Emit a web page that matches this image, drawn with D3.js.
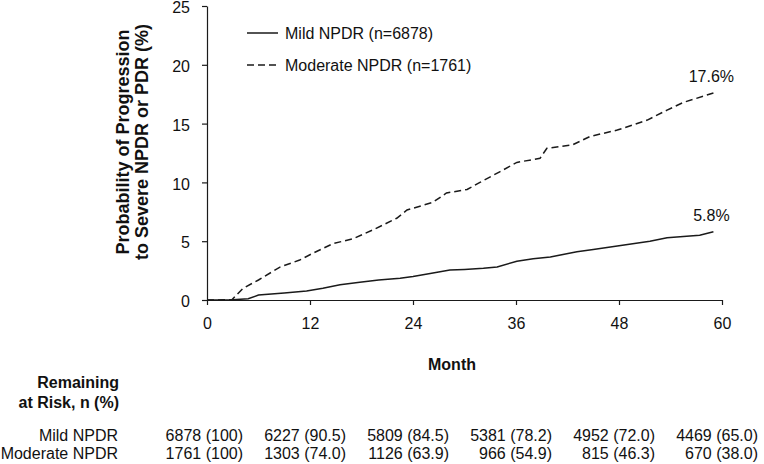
<!DOCTYPE html>
<html><head><meta charset="utf-8">
<script src="https://cdn.jsdelivr.net/npm/d3@7"></script>
<style>
body{margin:0;background:#fff;}
text{font-family:Arial,"Liberation Sans",sans-serif;fill:#111;}
</style></head>
<body><svg id="c" width="764" height="464"></svg>
<script>
const monthTicks = [0, 12, 24, 36, 48, 60];
const yTicks = [0, 5, 10, 15, 20, 25];
const mildCurve = [[0,0],[3,0.02],[4.8,0.1],[6,0.42],[9,0.6],[11.6,0.77],[13.5,1.0],[15.5,1.3],[17.8,1.5],[20,1.7],[22.5,1.85],[24,2.0],[26,2.25],[28.3,2.55],[30,2.6],[32.2,2.7],[33.8,2.8],[36.1,3.3],[38,3.5],[40,3.66],[43.1,4.1],[45,4.3],[47.8,4.6],[51.6,5.0],[53.6,5.3],[57.4,5.5],[59,5.8]];
const moderateCurve = [[0,0],[2.9,0.02],[4.2,1.0],[6,1.7],[8.5,2.8],[10.8,3.4],[12.4,4.0],[14.7,4.8],[17,5.2],[19.3,5.95],[22.1,6.95],[23.3,7.65],[26.3,8.3],[27.9,9.1],[30.3,9.4],[31.8,10.0],[34.1,10.9],[36.1,11.7],[38.8,12.05],[39.6,12.9],[42.6,13.2],[44.6,13.9],[47.8,14.45],[51.3,15.3],[53.6,16.15],[55.5,16.8],[59,17.6]];
const seriesNames = ["Mild NPDR (n=6878)", "Moderate NPDR (n=1761)"];
const endLabels = ["5.8%", "17.6%"];
const rowNames = ["Mild NPDR", "Moderate NPDR"];
const mildRisk = ["6878 (100)", "6227 (90.5)", "5809 (84.5)", "5381 (78.2)", "4952 (72.0)", "4469 (65.0)"];
const moderateRisk = ["1761 (100)", "1303 (74.0)", "1126 (63.9)", "966 (54.9)", "815 (46.3)", "670 (38.0)"];

const svg = d3.select("#c");
const x = d3.scaleLinear().domain([0, 60]).range([207, 722]);
const y = d3.scaleLinear().domain([0, 25]).range([300, 6]);
const ink = "#1a1a1a";

const gx = svg.append("g").attr("transform", "translate(0,300)")
  .call(d3.axisBottom(x).tickValues(monthTicks).tickSize(5).tickPadding(13).tickSizeOuter(0));
const gy = svg.append("g").attr("transform", "translate(207,0)")
  .call(d3.axisLeft(y).tickValues(yTicks).tickSize(5).tickPadding(12).tickSizeOuter(0));
[gx, gy].forEach(g => {
  g.selectAll("path,line").attr("stroke", ink).attr("stroke-width", 1.2);
  g.selectAll("text").style("font-size", "16px").attr("fill", "#111")
   .style("font-family", "Arial, 'Liberation Sans', sans-serif");
});
gy.selectAll("text").attr("dy", "0.42em");

const line = d3.line().x(d => x(d[0])).y(d => y(d[1]));
svg.append("path").datum(mildCurve).attr("d", line).attr("fill", "none")
  .attr("stroke", ink).attr("stroke-width", 1.5);
svg.append("path").datum(moderateCurve).attr("d", line).attr("fill", "none")
  .attr("stroke", ink).attr("stroke-width", 1.5).attr("stroke-dasharray", "7,4");

// end labels
const ends = [mildCurve[mildCurve.length-1], moderateCurve[moderateCurve.length-1]];
ends.forEach((p, i) => {
  svg.append("text").attr("x", x(p[0]) - 2).attr("y", y(p[1]) - 11)
    .attr("text-anchor", "middle").style("font-size", "16px").text(endLabels[i]);
});

// legend
seriesNames.forEach((n, i) => {
  const ly = 33 + i * 32;
  svg.append("line").attr("x1", 247).attr("x2", 278).attr("y1", ly).attr("y2", ly)
    .attr("stroke", ink).attr("stroke-width", 1.5)
    .attr("stroke-dasharray", i === 1 ? "7,4" : null);
  svg.append("text").attr("x", 285).attr("y", ly + 6).style("font-size", "16px").text(n);
});

// axis titles
svg.append("text").attr("x", 452).attr("y", 370).attr("text-anchor", "middle")
  .style("font-size", "16px").style("font-weight", "bold").text("Month");
const yt = svg.append("text").attr("transform", "translate(129,142) rotate(-90)")
  .attr("text-anchor", "middle").style("font-size", "18px").style("font-weight", "bold");
yt.append("tspan").attr("x", 0).attr("y", 0).text("Probability of Progression");
yt.append("tspan").attr("x", 0).attr("y", 19).text("to Severe NPDR or PDR (%)");

// risk table
svg.append("text").attr("x", 119).attr("y", 388).attr("text-anchor", "end")
  .style("font-size", "16px").style("font-weight", "bold").text("Remaining");
svg.append("text").attr("x", 119).attr("y", 408).attr("text-anchor", "end")
  .style("font-size", "16px").style("font-weight", "bold").text("at Risk, n (%)");
const rowY = [441, 459];
[mildRisk, moderateRisk].forEach((row, r) => {
  svg.append("text").attr("x", 118).attr("y", rowY[r]).attr("text-anchor", "end")
    .style("font-size", "16px").text(rowNames[r]);
  row.forEach((v, j) => {
    svg.append("text").attr("x", x(monthTicks[j]) + 36).attr("y", rowY[r])
      .attr("text-anchor", "end").style("font-size", "16px").text(v);
  });
});
</script></body></html>
